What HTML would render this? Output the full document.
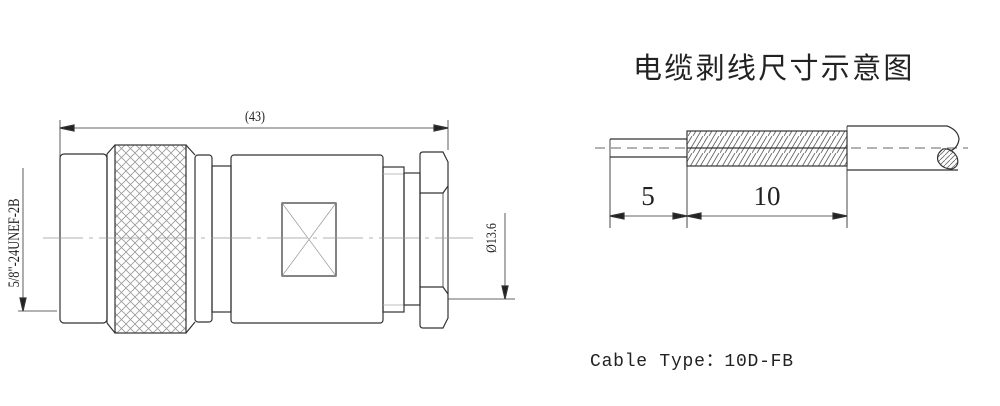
<!DOCTYPE html>
<html><head><meta charset="utf-8"><style>
html,body{margin:0;padding:0;background:#fff;width:1000px;height:406px;overflow:hidden}
</style></head><body>
<svg width="1000" height="406" viewBox="0 0 1000 406" xmlns="http://www.w3.org/2000/svg">
<defs>
<pattern id="knurl" width="9" height="9" patternUnits="userSpaceOnUse">
<path d="M0 0L9 9M9 0L0 9" stroke="#999" stroke-width="0.8"/>
</pattern>
<pattern id="braid" width="16" height="17" patternUnits="userSpaceOnUse">
<path d="M0 17L10 0M5 17L15 0M10 17L16 6.8M-6 17L4 0" stroke="#666" stroke-width="0.9"/>
</pattern>
<pattern id="hatch" width="5" height="5" patternUnits="userSpaceOnUse">
<path d="M0 5L5 0" stroke="#666" stroke-width="0.8"/>
</pattern>
</defs>
<g fill="none" stroke="#333" stroke-width="1.2">
<line x1="60" y1="120" x2="60" y2="160" stroke-width="0.8"/>
<line x1="448" y1="120" x2="448" y2="150" stroke-width="0.8"/>
<line x1="60" y1="128" x2="448" y2="128" stroke-width="0.8"/>
<path d="M60 128l14 -3v6z M448 128l-14 -3v6z" fill="#222"/>
<rect x="60" y="154" width="47" height="169" rx="4"/>
<path d="M107 154L115 145M107 323L115 333"/>
<line x1="107" y1="154" x2="107" y2="323"/>
<rect x="115" y="145" width="71" height="188" fill="url(#knurl)"/>
<path d="M186 145L195 155M186 333L195 322"/>
<rect x="195" y="155" width="17" height="167" rx="3"/>
<rect x="212" y="166" width="19" height="146"/>
<rect x="231" y="155" width="152" height="168" rx="3"/>
<rect x="282" y="203" width="54" height="73"/>
<path d="M282 203L336 276M336 203L282 276" stroke="#999" stroke-width="0.7"/>
<rect x="383" y="167" width="21" height="145"/>
<line x1="383" y1="174" x2="404" y2="174" stroke="#aaa" stroke-width="0.7"/>
<line x1="383" y1="305" x2="404" y2="305" stroke="#aaa" stroke-width="0.7"/>
<rect x="404" y="173" width="16" height="132"/>
<path d="M420 155Q420 152 423 152H443L448 162V318L443 328H423Q420 328 420 325Z"/>
<path d="M420 193H443L448 186M420 287H443L448 294"/>
<line x1="443" y1="193" x2="443" y2="287" stroke-width="0.8"/>
<line x1="43" y1="238" x2="473" y2="238" stroke="#999" stroke-width="0.8" stroke-dasharray="40 6 4 6"/>
<line x1="23" y1="168" x2="23" y2="311" stroke-width="0.8"/>
<line x1="18" y1="311" x2="57" y2="311" stroke-width="0.8"/>
<path d="M23 311l-3 -13h6z" fill="#222"/>
<line x1="505" y1="213" x2="505" y2="299" stroke-width="0.8"/>
<line x1="448" y1="299" x2="515" y2="299" stroke-width="0.8"/>
<path d="M505 299l-3 -13h6z" fill="#222"/>

<line x1="595" y1="148" x2="968" y2="148" stroke="#666" stroke-width="0.9" stroke-dasharray="10 6"/>
<path d="M610 139H687M610 157H687"/>
<rect x="687" y="131" width="160" height="35" fill="url(#braid)"/>
<line x1="687" y1="148" x2="847" y2="148"/>
<path d="M847 126H947Q958 130 959 139Q958 148 950 151"/>
<path d="M847 170H958"/>
<path d="M943 149Q936 154 938 161Q942 169 952 169Q960 166 957 157Q952 148 943 149Z" fill="url(#hatch)"/>
<line x1="610" y1="139" x2="610" y2="228" stroke-width="0.9"/>
<line x1="687" y1="131" x2="687" y2="228" stroke-width="0.9"/>
<line x1="847" y1="126" x2="847" y2="228" stroke-width="0.9"/>
<line x1="610" y1="216" x2="847" y2="216" stroke-width="0.8"/>
<path d="M610 216l14 -3v6z M687 216l-14 -3v6z M687 216l14 -3v6z M847 216l-14 -3v6z" fill="#222"/>
</g>
<g font-family="Liberation Serif, serif" fill="#222">
<text transform="translate(255 121) scale(0.8 1)" font-size="15" text-anchor="middle">(43)</text>
<text transform="translate(19 243) rotate(-90) scale(0.78 1)" font-size="16" text-anchor="middle">5/8"-24UNEF-2B</text>
<text transform="translate(496 238) rotate(-90) scale(0.8 1)" font-size="15" text-anchor="middle">Ø13.6</text>
<text x="648" y="205" font-size="27" text-anchor="middle">5</text>
<text x="767" y="205" font-size="27" text-anchor="middle">10</text>
</g>
<text x="633" y="78" font-size="29" letter-spacing="2.3" font-family="'Liberation Sans','Noto Sans CJK SC',sans-serif" fill="#222">电缆剥线尺寸示意图</text>
<text x="590" y="366" font-size="18" textLength="203" font-family="'Liberation Mono','Noto Sans CJK SC',monospace" fill="#222">Cable Type：10D-FB</text>
</svg>
</body></html>
